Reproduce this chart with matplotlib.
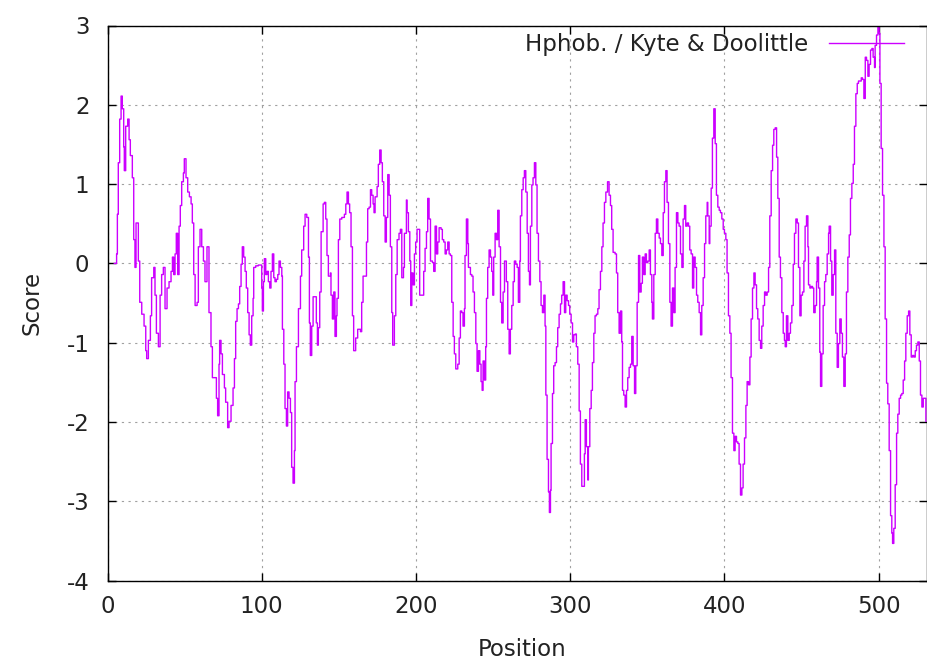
import matplotlib
matplotlib.use("Agg")
import matplotlib.pyplot as plt

plt.rcParams["axes.unicode_minus"] = False

# Kyte & Doolittle hydrophobicity profile
position = [4.4, 5.9, 6.4, 7.0, 7.9, 8.8, 9.6, 10.5, 10.9, 11.8, 13.1, 14.0, 14.8, 16.1, 17.0, 17.8, 18.5, 19.4, 20.0, 20.9,
            22.2, 23.7, 24.8, 25.4, 26.5, 27.8, 28.6, 30.0, 30.8, 31.7, 33.0, 34.1, 35.1, 36.2, 37.3, 38.6, 39.9, 41.2, 42.1, 42.9,
            43.8, 44.6, 45.5, 46.4, 47.2, 48.1, 49.2, 49.8, 50.9, 52.0, 53.1, 54.2, 55.0, 55.9, 56.8, 58.1, 58.9, 60.0, 61.1, 62.2,
            63.2, 64.5, 65.8, 67.1, 68.0, 69.3, 70.6, 71.4, 72.3, 72.7, 73.6, 74.5, 75.8, 76.6, 77.9, 78.8, 80.1, 81.4, 82.3, 83.1,
            84.0, 84.9, 85.7, 86.6, 87.4, 88.3, 89.2, 90.0, 90.9, 91.8, 92.6, 93.5, 94.4, 94.8, 96.1, 97.8, 98.9, 100.0, 100.4, 101.1,
            101.7, 102.6, 103.4, 104.3, 105.2, 106.0, 106.9, 107.8, 108.6, 109.5, 110.4, 111.2, 112.1, 113.0, 113.4, 114.3, 115.1, 116.0, 116.8, 117.7,
            118.6, 119.4, 120.3, 121.2, 121.6, 122.5, 123.8, 125.1, 125.9, 127.2, 128.1, 129.2, 130.3, 130.9, 131.5, 132.4, 133.3, 134.6, 135.4, 136.1,
            136.7, 137.6, 138.5, 139.8, 140.6, 141.5, 142.3, 143.2, 144.5, 144.9, 145.8, 146.7, 147.5, 148.4, 148.8, 149.7, 150.6, 151.9, 153.6, 154.5,
            155.3, 156.2, 157.0, 157.9, 158.8, 159.6, 160.9, 162.2, 164.0, 164.8, 165.7, 167.0, 167.9, 168.7, 169.6, 170.5, 171.3, 172.2, 172.8, 173.5,
            174.8, 175.6, 176.5, 177.4, 178.2, 179.1, 180.0, 180.8, 181.7, 182.6, 183.4, 184.3, 184.9, 186.0, 186.9, 187.8, 189.0, 189.9, 190.8, 191.9,
            192.5, 193.8, 194.2, 195.1, 196.0, 196.6, 197.3, 198.1, 199.0, 199.8, 200.7, 201.6, 202.4, 204.2, 205.0, 205.9, 206.8, 207.6, 208.5, 209.4,
            210.7, 211.5, 212.4, 213.3, 214.1, 215.0, 216.3, 217.1, 218.0, 218.9, 219.7, 220.6, 221.5, 222.3, 223.2, 224.1, 224.9, 225.8, 227.1, 228.0,
            228.8, 229.7, 230.5, 231.4, 231.8, 232.7, 233.6, 234.0, 235.3, 236.2, 237.0, 237.9, 238.8, 239.6, 240.5, 241.4, 242.2, 242.9, 243.5, 244.4,
            245.2, 245.7, 246.5, 247.4, 248.3, 249.1, 249.8, 250.4, 251.3, 252.2, 253.0, 253.9, 254.8, 255.6, 256.5, 257.4, 258.6, 259.5, 260.4, 261.2,
            262.1, 263.0, 263.8, 264.7, 265.6, 266.4, 267.3, 267.7, 268.6, 269.5, 270.3, 271.2, 272.1, 272.9, 273.6, 274.2, 275.1, 275.9, 276.8, 277.7,
            278.5, 279.4, 280.3, 281.1, 282.0, 282.9, 283.7, 284.2, 285.0, 285.9, 286.5, 287.2, 287.6, 288.5, 289.3, 290.2, 291.1, 291.9, 292.8, 293.7,
            294.5, 295.4, 296.3, 297.1, 298.0, 298.9, 299.7, 300.6, 301.5, 302.3, 303.2, 304.0, 304.9, 305.8, 306.6, 307.5, 308.4, 309.2, 309.7, 310.5,
            311.4, 311.8, 312.7, 313.6, 314.4, 315.3, 316.1, 317.0, 317.9, 318.7, 319.6, 320.5, 321.3, 322.2, 323.1, 324.2, 325.2, 326.1, 326.9, 327.8,
            329.1, 330.0, 330.8, 331.7, 332.6, 333.4, 333.9, 334.7, 335.6, 336.5, 337.3, 338.2, 339.1, 339.9, 340.8, 341.7, 342.5, 343.4, 344.3, 345.1,
            346.0, 346.8, 347.7, 348.6, 349.4, 350.3, 351.2, 352.0, 352.9, 353.3, 354.2, 355.1, 355.9, 356.8, 357.7, 358.5, 359.4, 360.3, 361.1, 362.0,
            362.8, 363.7, 364.6, 365.4, 366.3, 367.2, 368.0, 368.9, 369.8, 370.6, 371.5, 372.4, 373.2, 374.1, 374.9, 375.8, 376.7, 377.5, 378.4, 379.3,
            380.1, 381.0, 381.9, 382.7, 383.6, 384.5, 385.3, 386.2, 387.1, 387.9, 388.8, 389.2, 390.1, 390.5, 391.4, 392.2, 393.1, 394.0, 394.8, 395.7,
            396.6, 397.4, 398.3, 399.2, 400.0, 400.9, 401.7, 402.6, 403.5, 404.3, 405.2, 406.1, 406.9, 407.8, 408.7, 409.5, 410.4, 411.3, 412.1, 413.0,
            413.9, 414.7, 415.6, 416.5, 417.3, 418.2, 419.1, 419.9, 420.8, 421.6, 422.5, 423.4, 424.2, 425.1, 426.0, 426.8, 427.7, 428.6, 429.4, 430.3,
            431.2, 432.0, 432.9, 433.8, 434.6, 435.5, 436.3, 437.2, 438.1, 438.9, 439.4, 440.2, 441.1, 442.0, 442.8, 443.7, 444.6, 445.4, 446.3, 447.2,
            448.0, 448.9, 449.7, 450.6, 451.5, 452.3, 453.2, 454.1, 454.5, 455.4, 456.2, 457.1, 457.9, 458.8, 459.7, 460.1, 461.0, 461.8, 462.3, 463.1,
            464.0, 464.9, 465.7, 466.6, 467.5, 467.9, 468.8, 469.6, 470.5, 471.4, 472.2, 473.1, 473.9, 474.8, 475.7, 476.5, 477.4, 478.3, 479.1, 480.0,
            480.9, 481.7, 482.6, 483.5, 484.3, 485.2, 486.1, 486.9, 487.8, 488.7, 489.5, 490.4, 491.3, 492.1, 493.0, 493.8, 494.7, 495.6, 496.4, 497.3,
            497.7, 498.6, 499.5, 500.3, 500.8, 501.6, 502.5, 503.4, 504.2, 505.1, 505.9, 506.8, 507.7, 508.5, 509.0, 509.8, 510.7, 511.6, 512.4, 513.3,
            514.2, 515.0, 515.9, 516.8, 517.6, 518.5, 519.4, 520.2, 521.1, 522.0, 522.8, 523.7, 524.5, 525.4, 526.3, 527.1, 528.0, 528.9, 529.7, 530.6]

score = [0.0, 0.12, 0.62, 1.27, 1.82, 2.11, 1.95, 1.47, 1.17, 1.73, 1.82, 1.56, 1.36, 1.08, 0.30, -0.05, 0.51, 0.51, 0.03, -0.49,
         -0.64, -0.79, -1.10, -1.20, -0.97, -0.66, -0.18, -0.05, -0.40, -0.88, -1.05, -0.40, -0.14, -0.05, -0.57, -0.31, -0.23, -0.10, 0.08, -0.14,
         0.12, 0.38, -0.14, 0.47, 0.73, 1.03, 1.14, 1.32, 1.08, 0.90, 0.84, 0.75, 0.51, -0.14, -0.53, -0.49, 0.21, 0.43, 0.21, 0.03,
         -0.23, 0.21, -0.62, -1.05, -1.44, -1.44, -1.70, -1.92, -1.27, -0.97, -1.14, -1.40, -1.57, -1.75, -2.07, -1.99, -1.79, -1.57, -1.20, -0.73,
         -0.57, -0.51, -0.29, -0.01, 0.21, 0.08, -0.10, -0.31, -0.62, -0.90, -1.03, -0.66, -0.44, -0.05, -0.03, -0.02, -0.02, -0.31, -0.60, -0.23,
         0.06, -0.14, -0.10, -0.23, -0.31, -0.10, 0.12, -0.18, -0.23, -0.20, -0.14, 0.03, -0.05, -0.16, -0.83, -1.27, -1.83, -2.05, -1.62, -1.70,
         -1.88, -2.57, -2.77, -2.36, -1.49, -1.05, -0.57, -0.16, 0.17, 0.47, 0.62, 0.58, 0.08, -0.75, -1.16, -0.79, -0.42, -0.42, -0.75, -1.03,
         -0.81, -0.36, 0.40, 0.75, 0.77, 0.56, 0.10, -0.16, -0.12, -0.40, -0.70, -0.36, -0.92, -0.66, -0.44, 0.30, 0.56, 0.58, 0.62, 0.75,
         0.90, 0.75, 0.64, 0.21, -0.66, -1.10, -0.94, -0.83, -0.86, -0.49, -0.16, -0.16, 0.27, 0.69, 0.71, 0.93, 0.86, 0.75, 0.64, 0.84,
         0.97, 1.25, 1.43, 1.27, 1.03, 0.60, 0.27, 0.58, 1.12, 0.86, 0.21, -0.62, -1.03, -0.66, -0.14, 0.30, 0.38, 0.43, -0.18, -0.05,
         0.38, 0.80, 0.64, 0.40, 0.03, -0.53, -0.12, -0.27, 0.12, 0.27, 0.43, 0.43, -0.40, -0.40, -0.10, 0.19, 0.40, 0.82, 0.56, 0.03,
         0.01, -0.10, 0.47, 0.12, 0.27, 0.45, 0.43, 0.30, 0.27, 0.12, 0.17, 0.27, 0.12, 0.10, -0.49, -0.92, -1.14, -1.33, -1.27, -0.94,
         -0.60, -0.62, -0.79, -0.57, 0.10, 0.56, 0.25, -0.05, -0.14, -0.16, -0.36, -0.62, -1.01, -1.36, -1.10, -1.27, -1.49, -1.60, -1.23, -1.47,
         -1.05, -0.44, -0.05, 0.17, 0.08, -0.10, -0.40, 0.08, 0.38, 0.30, 0.67, 0.21, -0.49, -0.75, -0.36, 0.03, -0.23, -0.83, -1.14, -0.83,
         -0.53, -0.23, 0.03, -0.01, -0.05, -0.49, 0.03, 0.60, 0.93, 1.08, 1.17, 0.90, 0.38, -0.10, -0.27, 0.47, 0.99, 1.08, 1.27, 0.99,
         0.38, 0.03, -0.23, -0.53, -0.62, -0.40, -0.79, -1.66, -2.47, -2.88, -3.14, -2.86, -2.27, -1.64, -1.29, -1.25, -1.05, -0.81, -0.64, -0.51,
         -0.40, -0.23, -0.62, -0.40, -0.47, -0.53, -0.64, -0.75, -0.99, -0.90, -0.89, -1.05, -1.27, -1.86, -2.53, -2.81, -2.81, -2.40, -1.97, -2.31,
         -2.73, -2.31, -1.83, -1.60, -1.25, -0.88, -0.66, -0.64, -0.57, -0.33, -0.10, 0.21, 0.51, 0.77, 0.90, 1.03, 0.86, 0.73, 0.43, 0.14,
         0.12, -0.12, -0.62, -0.88, -0.60, -0.99, -1.60, -1.66, -1.81, -1.60, -1.44, -1.31, -1.27, -0.92, -1.29, -1.64, -1.29, -0.49, 0.10, -0.36,
         -0.25, 0.08, -0.14, 0.12, 0.01, 0.03, 0.17, -0.14, -0.49, -0.70, -0.14, 0.38, 0.56, 0.38, 0.32, 0.25, 0.10, 0.64, 1.03, 1.17,
         0.77, 0.25, -0.49, -0.79, -0.31, -0.62, -0.05, 0.64, 0.51, 0.47, 0.12, -0.05, 0.56, 0.73, 0.47, 0.51, 0.47, 0.17, 0.12, -0.31,
         0.08, -0.05, -0.40, -0.49, -0.62, -0.90, -0.53, -0.18, 0.25, 0.60, 0.77, 0.60, 0.25, 0.47, 0.95, 1.58, 1.95, 1.51, 0.86, 0.71,
         0.67, 0.64, 0.56, 0.43, 0.38, 0.30, -0.12, -0.66, -0.88, -1.44, -2.14, -2.36, -2.18, -2.25, -2.27, -2.53, -2.92, -2.83, -2.53, -2.20,
         -1.79, -1.49, -1.53, -1.18, -0.70, -0.31, -0.12, -0.27, -0.57, -0.70, -0.97, -1.07, -0.79, -0.53, -0.36, -0.40, -0.36, -0.05, 0.60, 1.17,
         1.49, 1.69, 1.71, 1.34, 0.82, 0.08, -0.18, -0.62, -0.88, -0.97, -1.05, -0.66, -0.97, -0.88, -0.75, -0.53, -0.01, 0.38, 0.56, 0.51,
         -0.05, -0.66, -0.40, -0.36, 0.03, 0.47, 0.60, 0.21, -0.27, -0.31, -0.29, -0.31, -0.62, -0.53, -0.23, 0.08, -0.31, -1.12, -1.55, -1.14,
         -0.53, -0.23, -0.14, 0.12, 0.38, 0.47, 0.03, -0.40, -0.14, 0.17, -0.88, -1.31, -1.01, -0.70, -0.88, -1.18, -1.55, -1.14, -0.36, 0.08,
         0.36, 0.82, 1.01, 1.25, 1.73, 2.14, 2.27, 2.30, 2.30, 2.34, 2.32, 2.08, 2.60, 2.56, 2.36, 2.51, 2.69, 2.71, 2.60, 2.47,
         2.75, 2.88, 2.99, 2.90, 2.27, 1.45, 0.86, 0.21, -0.70, -1.51, -1.77, -2.36, -3.18, -3.40, -3.53, -3.34, -2.79, -2.14, -1.90, -1.70,
         -1.66, -1.64, -1.47, -1.23, -0.88, -0.66, -0.60, -0.90, -1.18, -1.16, -1.18, -1.10, -1.03, -0.99, -1.23, -1.66, -1.81, -1.70, -1.70, -1.99]

x_ticks = [0, 100, 200, 300, 400, 500]
y_ticks = [-4, -3, -2, -1, 0, 1, 2, 3]

W, H = 927, 661
fig = plt.figure(figsize=(W / 100, H / 100), dpi=100)
ax = fig.add_axes([107.5 / W, 1 - 580.7 / H, (926.5 - 107.5) / W, (580.7 - 25.5) / H])

ax.plot(position, score, color="#cc00ff", lw=1.0, drawstyle="steps-post",
        label="Hphob. / Kyte & Doolittle")

ax.set_xlim(0, 531)
ax.set_ylim(-4, 3)
ax.set_xticks(x_ticks)
ax.set_yticks(y_ticks)
ax.grid(True, color="#a0a0a0", linestyle=(0, (2, 4)), linewidth=0.8)

for sp in ax.spines.values():
    sp.set_color("black")
    sp.set_linewidth(1.0)

txt = "#222222"
ax.tick_params(direction="in", length=6, width=1, top=True, right=True,
               labelsize=16.5, labelcolor=txt, color="black")
ax.tick_params(axis="y", pad=13)
ax.tick_params(axis="x", pad=10)

ax.set_xlabel("Position", fontsize=16.5, color=txt, va="center")
ax.set_ylabel("Score", fontsize=16.5, color=txt)
ax.xaxis.set_label_coords(0.506, (580.7 - 649) / 555.2)
ax.yaxis.set_label_coords(-0.078, 0.5)

leg = ax.legend(loc="center right", bbox_to_anchor=((904 - 107.5) / 818.5, (580.7 - 45) / 555.2),
                frameon=False, markerfirst=False, fontsize=16.5, handlelength=3.3,
                handletextpad=0.9, borderpad=0, borderaxespad=0)
for t in leg.get_texts():
    t.set_color(txt)

fig.savefig("out.png", dpi=100)
